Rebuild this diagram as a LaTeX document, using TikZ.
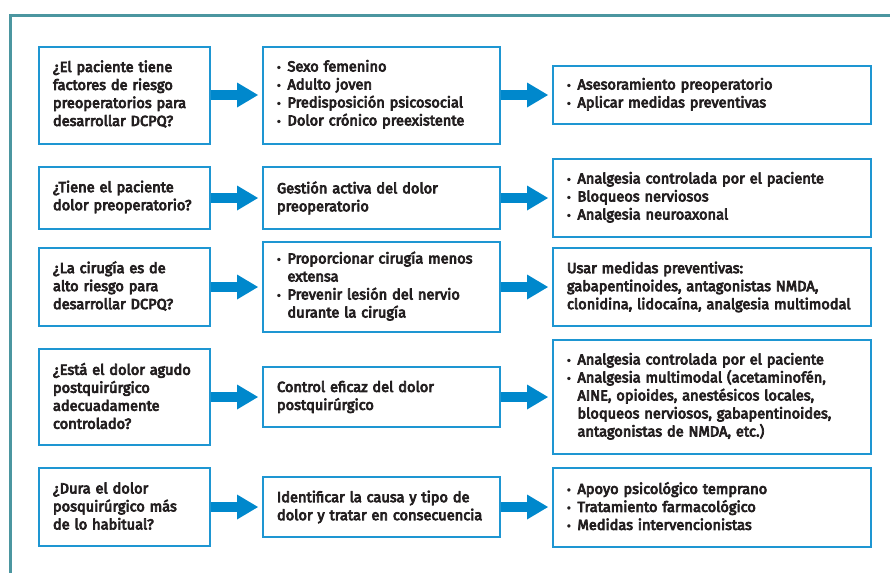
\documentclass[tikz,border=0pt]{standalone}
\usepackage{fontspec}
\setmainfont{Fira Sans}[UprightFeatures={FakeBold=5}]
\usepackage{tikz}
\usetikzlibrary{positioning}
\definecolor{framegreen}{HTML}{4B96A0}
\definecolor{boxblue}{HTML}{1E96D2}
\definecolor{arrowblue}{HTML}{0088CC}
\definecolor{textblack}{HTML}{231F20}
\newcommand{\bitem}[1]{\par\makebox[0.72em][l]{\scalebox{0.8}{\textbullet}}#1}
\newcommand{\cont}{\\\hspace*{0.72em}}
\newcommand{\lowgap}[1]{\par\vspace*{#1}}
% block arrow from the east side of one box to the west side of the next
\newcommand{\blockarrow}[2]{%
	\draw[arrowblue,line width=10pt] (#1.east) -- ([xshift=-23pt]#2.west);
	\fill[arrowblue] ([xshift=-4pt]#2.west) -- ([xshift=-25pt,yshift=12.5pt]#2.west) -- ([xshift=-25pt,yshift=-12.5pt]#2.west) -- cycle;}

\begin{document}
\begin{tikzpicture}[x=1pt,y=-1pt,node distance=51pt,font=\fontsize{14.6pt}{18pt}\selectfont]
		\tikzstyle{infobox}=[draw=boxblue,line width=2pt,inner xsep=14pt,inner ysep=0pt,align=left,text=textblack]
		\tikzstyle{qbox}=[infobox,text width=143pt,anchor=west,execute at end node={\lowgap{2pt}}]
		\tikzstyle{abox}=[infobox,text width=209pt]
		\tikzstyle{mbox}=[infobox,text width=290pt]
		\tikzstyle{listbox}=[execute at end node={\lowgap{8pt}}]

		\useasboundingbox (0,0) rectangle (890,573);
		\draw[framegreen,line width=3pt] (890,15) -- (10,15) -- (10,573);

		% first row
		\node[qbox,minimum height=97pt] (q1) at (38,95) {¿El paciente tiene\\factores de riesgo\\preoperatorios para\\desarrollar DCPQ?};
		\node[abox,listbox,minimum height=97pt] (a1) [right=of q1] {\bitem{Sexo femenino}\bitem{Adulto joven}\bitem{Predisposición psicosocial}\bitem{Dolor crónico preexistente}};
		\node[mbox,listbox,minimum height=58pt] (m1) [right=of a1] {\bitem{Asesoramiento preoperatorio}\bitem{Aplicar medidas preventivas}};

		% second row
		\node[qbox,minimum height=62pt] (q2) at (38,198) {¿Tiene el paciente\\dolor preoperatorio?};
		\node[abox,minimum height=62pt] (a2) [right=of q2] {Gestión activa del dolor\\preoperatorio};
		\node[mbox,listbox,minimum height=78pt] (m2) [right=of a2] {\bitem{Analgesia controlada por el paciente}\bitem{Bloqueos nerviosos}\bitem{Analgesia neuroaxonal}};

		% third row
		\node[qbox,minimum height=78pt] (q3) at (38,287) {¿La cirugía es de\\alto riesgo para\\desarrollar DCPQ?};
		\node[abox,listbox,minimum height=90pt] (a3) [right=of q3] {\bitem{Proporcionar cirugía menos\cont extensa}\bitem{Prevenir lesión del nervio\cont durante la cirugía}};
		\node[mbox,minimum height=78pt] (m3) [right=of a3] {Usar medidas preventivas:\\\mbox{gabapentinoides, antagonistas NMDA,}\\\mbox{clonidina, lidocaína, analgesia multimodal}};

		% fourth row
		\node[qbox,minimum height=96pt] (q4) at (38,397) {¿Está el dolor agudo\\postquirúrgico\\adecuadamente\\controlado?};
		\node[abox,minimum height=60pt] (a4) [right=of q4] {Control eficaz del dolor\\postquirúrgico};
		\node[mbox,listbox,minimum height=114pt] (m4) [right=of a4] {\bitem{Analgesia controlada por el paciente}\bitem{Analgesia multimodal (acetaminofén,\cont AINE, opioides, anestésicos locales,\cont bloqueos nerviosos, gabapentinoides,\cont antagonistas de NMDA, etc.)}};

		% fifth row
		\node[qbox,minimum height=78pt] (q5) at (38,507) {¿Dura el dolor\\posquirúrgico más\\de lo habitual?};
		\node[abox,minimum height=60pt] (a5) [right=of q5] {Identificar la causa y tipo de\\\mbox{dolor y tratar en consecuencia}};
		\node[mbox,listbox,minimum height=79pt] (m5) [right=of a5] {\bitem{Apoyo psicológico temprano}\bitem{Tratamiento farmacológico}\bitem{Medidas intervencionistas}};

		\blockarrow{q1}{a1} \blockarrow{a1}{m1}
		\blockarrow{q2}{a2} \blockarrow{a2}{m2}
		\blockarrow{q3}{a3} \blockarrow{a3}{m3}
		\blockarrow{q4}{a4} \blockarrow{a4}{m4}
		\blockarrow{q5}{a5} \blockarrow{a5}{m5}
	\end{tikzpicture}
\end{document}
